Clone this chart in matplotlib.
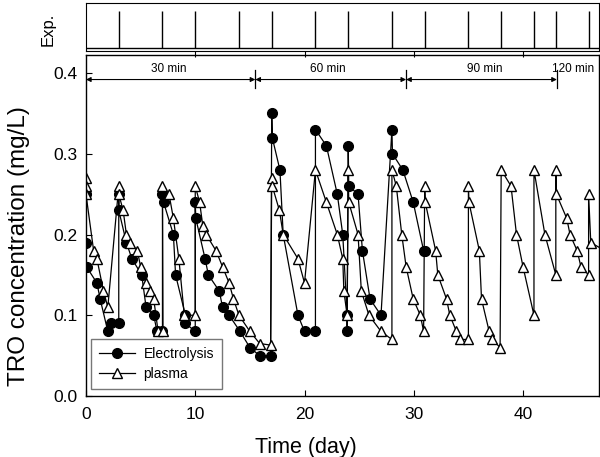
import matplotlib.pyplot as plt
import matplotlib as mpl

mpl.rcParams['font.family'] = ['Liberation Sans', 'DejaVu Sans']

# Electrolysis (filled circles)
elec_day = [0, 0, 0.05, 1.0, 1.3, 2.0, 2.3, 3.0,
            3.0, 3.0, 3.7, 4.2, 5.1, 5.5, 6.2, 6.5, 7.0,
            7.0, 7.1, 8.0, 8.2, 9.1, 9.1, 10.0,
            10.0, 10.05, 10.9, 11.2, 12.2, 12.5, 13.1, 14.1, 15.0, 15.9, 16.9,
            17.0, 17.05, 17.75, 18.05, 19.4, 20.0, 21.0,
            21.0, 22.0, 23.0, 23.5, 23.9, 23.9,
            24.0, 24.05, 24.9, 25.3, 26.0, 27.0,
            28.0, 28.05, 29.0, 29.95, 30.9, 31.0]
elec_conc = [0.25, 0.19, 0.16, 0.14, 0.12, 0.08, 0.09, 0.09,
             0.25, 0.23, 0.19, 0.17, 0.15, 0.11, 0.10, 0.08, 0.08,
             0.25, 0.24, 0.20, 0.15, 0.10, 0.09, 0.08,
             0.24, 0.22, 0.17, 0.15, 0.13, 0.11, 0.10, 0.08, 0.06, 0.05, 0.05,
             0.35, 0.32, 0.28, 0.20, 0.10, 0.08, 0.08,
             0.33, 0.31, 0.25, 0.20, 0.10, 0.08,
             0.31, 0.26, 0.25, 0.18, 0.12, 0.10,
             0.33, 0.30, 0.28, 0.24, 0.18, 0.18]

# Plasma (open triangles)
plasma_day = [0, 0, 0, 0.7, 1.0, 1.6, 2.0,
              3.0, 3.0, 3.4, 3.7, 4.0, 4.7, 5.0, 5.5, 5.9, 6.2, 6.6, 7.05,
              7.0, 7.6, 8.0, 8.5, 9.0, 10.0,
              10.0, 10.4, 10.7, 11.0, 11.9, 12.5, 13.1, 13.5, 14.0, 15.0, 15.9, 16.9,
              17.0, 17.05, 17.7, 18.05, 19.4, 20.0,
              21.0, 22.0, 23.0, 23.5, 23.6, 23.9,
              24.0, 24.05, 24.9, 25.2, 25.9, 27.0, 28.0,
              28.0, 28.4, 28.9, 29.3, 29.95, 30.6, 30.9,
              31.0, 31.05, 32.0, 32.2, 33.0, 33.3, 33.9, 34.2, 35.0,
              35.0, 35.05, 36.0, 36.2, 36.9, 37.2, 37.9,
              38.0, 38.9, 39.4, 40.0, 41.0,
              41.0, 42.0, 43.0,
              43.0, 43.05, 44.0, 44.3, 44.95, 45.3, 46.0,
              46.0, 46.2, 47.5]
plasma_conc = [0.27, 0.26, 0.25, 0.18, 0.17, 0.13, 0.11,
               0.26, 0.25, 0.23, 0.20, 0.19, 0.18, 0.16, 0.14, 0.13, 0.12, 0.08, 0.08,
               0.26, 0.25, 0.22, 0.17, 0.10, 0.10,
               0.26, 0.24, 0.21, 0.20, 0.18, 0.16, 0.14, 0.12, 0.10, 0.08, 0.065, 0.063,
               0.27, 0.26, 0.23, 0.20, 0.17, 0.14,
               0.28, 0.24, 0.20, 0.17, 0.13, 0.10,
               0.28, 0.24, 0.20, 0.13, 0.10, 0.08, 0.07,
               0.28, 0.26, 0.20, 0.16, 0.12, 0.10, 0.08,
               0.26, 0.24, 0.18, 0.15, 0.12, 0.10, 0.08, 0.07, 0.07,
               0.26, 0.24, 0.18, 0.12, 0.08, 0.07, 0.06,
               0.28, 0.26, 0.20, 0.16, 0.10,
               0.28, 0.20, 0.15,
               0.28, 0.25, 0.22, 0.20, 0.18, 0.16, 0.15,
               0.25, 0.19, 0.18]

# Days when the experiment was (re)started
exp_days = [3, 7, 10, 14, 17, 21, 24, 28, 31, 35, 38, 41, 43, 46]

# Treatment duration periods
period_edges = [0, 15.5, 29.3, 43.1, 47.2]
period_labels = ['30 min', '60 min', '90 min', '120 min']
label_x = [7.6, 22.1, 36.5, 44.6]

fig = plt.figure(figsize=(6, 4.57), dpi=100)
ax = fig.add_axes([0.1433, 0.1335, 0.855, 0.746])
ax_top = fig.add_axes([0.1433, 0.888, 0.855, 0.105])

ax.plot(elec_day, elec_conc, '-o', color='black', lw=0.9, markersize=7,
        markerfacecolor='black', markeredgecolor='black', label='Electrolysis')
ax.plot(plasma_day, plasma_conc, '-^', color='black', lw=0.9, markersize=6.5,
        markerfacecolor='white', markeredgecolor='black', markeredgewidth=1.0,
        label='plasma')

ax.set_xlim(0, 46.95)
ax.set_ylim(0, 0.4223)
ax.set_xticks([0, 10, 20, 30, 40])
ax.set_yticks([0.0, 0.1, 0.2, 0.3, 0.4])
ax.set_yticklabels(['0.0', '0.1', '0.2', '0.3', '0.4'])
ax.tick_params(direction='in', labelsize=12.5, length=4, width=0.8, pad=6)
ax.tick_params(axis='x', pad=8)
ax.set_xlabel('Time (day)', fontsize=15.5)
ax.xaxis.set_label_coords(0.429, -0.12)
ax.set_ylabel('TRO concentration (mg/L)', fontsize=17.5)
ax.yaxis.set_label_coords(-0.11, 0.44)
for s in ax.spines.values():
    s.set_linewidth(1.0)

# period arrows
y_arr = 0.392
for i in range(len(period_labels)):
    x0, x1 = period_edges[i], period_edges[i + 1]
    ax.annotate('', xy=(x1, y_arr), xytext=(x0, y_arr),
                arrowprops=dict(arrowstyle='<|-|>', color='black', lw=0.8,
                                mutation_scale=7, shrinkA=0, shrinkB=0))
    ax.text(label_x[i], 0.397, period_labels[i], ha='center', va='bottom',
            fontsize=8.5, clip_on=True)
for x in period_edges[1:-1]:
    ax.plot([x, x], [0.381, 0.404], color='black', lw=0.9)

leg = ax.legend(loc='lower left', bbox_to_anchor=(-0.004, 0.0), fontsize=10,
                frameon=True, fancybox=False, edgecolor='#555555',
                handlelength=2.6, borderpad=0.6, labelspacing=0.4,
                handletextpad=0.6)
leg.get_frame().set_linewidth(1.0)

# experiment panel
ax_top.vlines(exp_days, 0, 0.82, color='black', lw=1.0)
ax_top.axhline(0, color='black', lw=1.0)
ax_top.set_xlim(0, 46.95)
ax_top.set_ylim(-0.07, 1)
ax_top.set_yticks([])
ax_top.set_xticks([10, 20, 30, 40])
ax_top.set_xticklabels([])
ax_top.tick_params(axis='x', direction='out', length=4, width=0.8)
ax_top.set_ylabel('Exp.', fontsize=12)
ax_top.yaxis.set_label_coords(-0.06, 0.45)

fig.savefig('out.png', dpi=100)
